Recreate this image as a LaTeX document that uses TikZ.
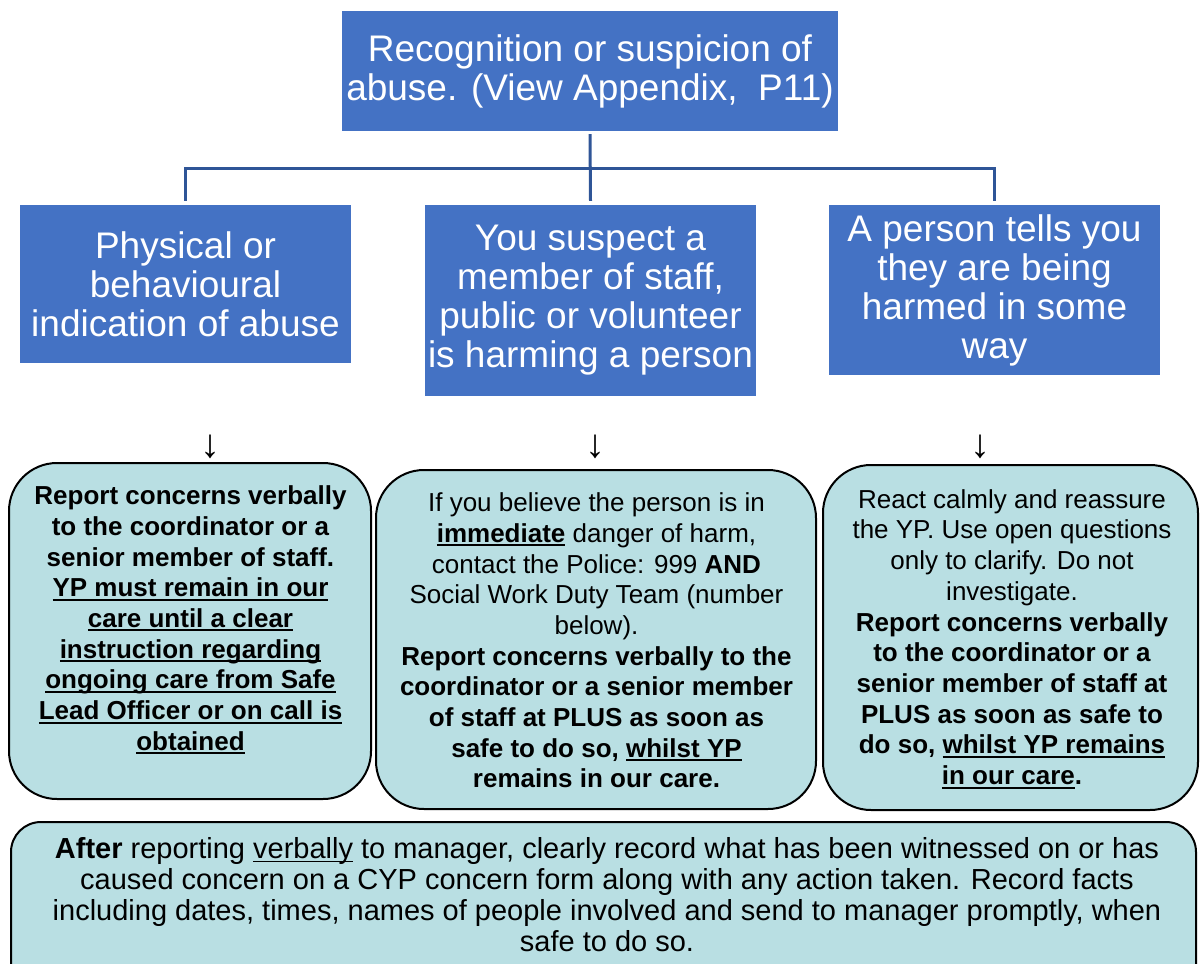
\documentclass[tikz,border=0pt]{standalone}
\usepackage{fontspec}
\setmainfont{Liberation Sans}
\definecolor{hdrblue}{HTML}{4472C4}
\definecolor{lnblue}{HTML}{2F5597}
\definecolor{boxfill}{HTML}{B9DFE3}
\newcommand\ulx[1]{{\setbox0\hbox{#1}\rlap{\rule[-4pt]{\wd0}{2pt}}\box0}}
\newcommand\ulthin[1]{{\setbox0\hbox{#1}\rlap{\rule[-4pt]{\wd0}{1.4pt}}\box0}}
\tikzset{
  hdr/.style={fill=hdrblue, text=white, draw=none, align=center, inner sep=0pt,
    font=\fontsize{37}{39}\selectfont},
  rbox/.style={draw=black, line width=2pt, fill=boxfill, rounded corners=48pt, inner sep=0pt},
  body/.style={align=center, inner sep=0pt, font=\fontsize{26}{30.7}\selectfont},
  conn/.style={draw=lnblue, line width=3pt},
  arrowglyph/.style={inner sep=0pt, font=\fontsize{40}{40}\selectfont}
}
\begin{document}
\begin{tikzpicture}[x=1pt,y=-1pt]
\useasboundingbox (0,0) rectangle (1200,964);
\clip (0,0) rectangle (1200,964);
% header
\node[hdr, minimum width=496pt, minimum height=120pt] (top) at (590,71)
  {\raisebox{-3pt}{Recognition or suspicion of}\\\raisebox{-3pt}{abuse. (View Appendix,~ P11)}};
% children
\node[hdr, minimum width=331pt, minimum height=158pt] (c1) at (185.5,284)
  {Physical or\\behavioural\\indication of abuse};
\node[hdr, minimum width=331pt, minimum height=191pt] (c2) at (590.5,300.5)
  {\raisebox{-3pt}{You suspect a}\\\raisebox{-3pt}{member of staff,}\\\raisebox{-3pt}{public or volunteer}\\\raisebox{-3pt}{is harming a person}};
\node[hdr, minimum width=331pt, minimum height=170pt] (c3) at (994.5,290)
  {\raisebox{-3pt}{A person tells you}\\\raisebox{-3pt}{they are being}\\\raisebox{-3pt}{harmed in some}\\\raisebox{-3pt}{way}};
% connectors
\coordinate (hj) at (590,168);
\draw[conn] ([yshift=-3pt]top.south) -- ([yshift=4pt]c2.north);
\draw[conn] ([yshift=4pt]c1.north) |- (hj) -| ([yshift=4pt]c3.north);
% arrow glyphs
\node[arrowglyph] (a1) at (210,447) {↓};
\node[arrowglyph] (a2) at (595,447) {↓};
\node[arrowglyph] (a3) at (980,447) {↓};
% bottom row boxes
\node[rbox, minimum width=362pt, minimum height=336pt] (b1) at (190,631) {};
\node[body, font=\bfseries\fontsize{26}{30.7}\selectfont] (t1) at (190.5,620)
  {Report concerns verbally\\to the coordinator or a\\senior member of staff.\\
   \ulx{YP must remain in our}\\\ulx{care until a clear}\\\ulx{instruction regarding}\\
   \ulx{ongoing care from Safe}\\\ulx{Lead Officer or on call is}\\\ulx{obtained}};
\node[rbox, minimum width=440pt, minimum height=339pt] (b2) at (596,639.5) {};
\node[body] (t2) at (596.5,640.5)
  {If you believe the person is in\\\ulx{\textbf{immediate}} danger of harm,\\
   contact the Police: 999 \textbf{AND}\\Social Work Duty Team (number\\below).\\
   \textbf{Report concerns verbally to the}\\\textbf{coordinator or a senior member}\\
   \textbf{of staff at PLUS as soon as}\\\textbf{safe to do so, \ulx{whilst YP}}\\
   \textbf{remains in our care.}};
\node[rbox, minimum width=375pt, minimum height=345pt] (b3) at (1010.5,637.5) {};
\node[body] (t3) at (1012,639)
  {React calmly and reassure\\the YP. Use open questions\\only to clarify. Do not\\investigate.\\
   \textbf{Report concerns verbally}\\\textbf{to the coordinator or a}\\
   \textbf{senior member of staff at}\\\textbf{PLUS as soon as safe to}\\
   \textbf{do so, \ulx{whilst YP remains}}\\\textbf{\ulx{in our care}.}};
% bottom box
\node[rbox, rounded corners=30pt, minimum width=1185pt, minimum height=190pt] (b4) at (603.5,917) {};
\node[body, font=\fontsize{29}{31}\selectfont] (t4) at (607,894.5)
  {\textbf{After} reporting \ulthin{verbally} to manager, clearly record what has been witnessed on or has\\
   caused concern on a CYP concern form along with any action taken. Record facts\\
   including dates, times, names of people involved and send to manager promptly, when\\
   safe to do so.};
\end{tikzpicture}
\end{document}
